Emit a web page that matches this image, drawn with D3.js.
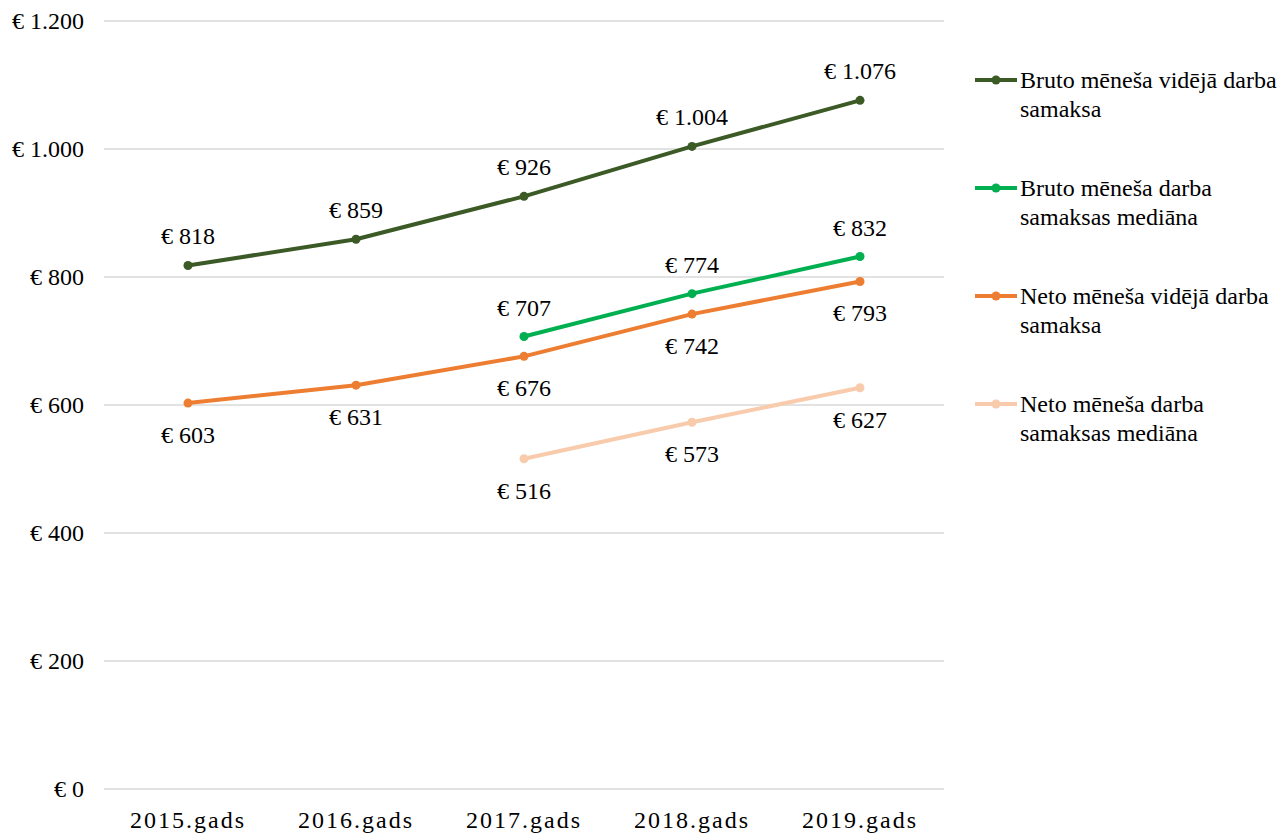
<!DOCTYPE html>
<html>
<head>
<meta charset="utf-8">
<script src="https://cdn.jsdelivr.net/npm/d3@7"></script>
<style>
    body { margin: 0; background: #fff; }
    text { font-family: "Liberation Serif", "Times New Roman", serif; fill: #000; }
</style>
</head>
<body>
<svg id="chart" width="1288" height="837"></svg>
<script>
'use strict';

var years = ["2015.gads", "2016.gads", "2017.gads", "2018.gads", "2019.gads"];
var yTicks = [0, 200, 400, 600, 800, 1000, 1200];

var brutoAvg    = [818, 859, 926, 1004, 1076];
var brutoMedian = [null, null, 707, 774, 832];
var netoAvg     = [603, 631, 676, 742, 793];
var netoMedian  = [null, null, 516, 573, 627];

var seriesNames = [
    ["Bruto mēneša vidējā darba", "samaksa"],
    ["Bruto mēneša darba", "samaksas mediāna"],
    ["Neto mēneša vidējā darba", "samaksa"],
    ["Neto mēneša darba", "samaksas mediāna"]
];

var series = [
    { values: brutoAvg,    name: seriesNames[0], color: "#3b5a26", labelPos: "above" },
    { values: brutoMedian, name: seriesNames[1], color: "#00b050", labelPos: "above" },
    { values: netoAvg,     name: seriesNames[2], color: "#ed7d31", labelPos: "below" },
    { values: netoMedian,  name: seriesNames[3], color: "#f8cbad", labelPos: "below" }
];

var svg = d3.select("#chart");
var margin = { left: 104, right: 344, top: 21, bottom: 48 };
var width = 1288, height = 837;
var fontSize = "24px";

var locale = d3.formatLocale({ decimal: ",", thousands: ".", grouping: [3], currency: ["€ ", ""] });
var fmt = locale.format(",d");
var euro = function (v) { return "€ " + fmt(v); };

var x = d3.scaleBand()
    .domain(years)
    .range([margin.left, width - margin.right]);

var y = d3.scaleLinear()
    .domain([0, 1200])
    .range([height - margin.bottom, margin.top]);

// gridlines
svg.append("g")
    .selectAll("line")
    .data(yTicks)
    .enter().append("line")
        .attr("x1", margin.left)
        .attr("x2", width - margin.right)
        .attr("y1", function (d) { return y(d); })
        .attr("y2", function (d) { return y(d); })
        .attr("stroke", "#d9d9d9")
        .attr("stroke-width", 1.3);

// y axis labels
var yAxis = svg.append("g")
    .attr("transform", "translate(" + (margin.left - 20) + ",0)")
    .call(d3.axisLeft(y).tickValues(yTicks).tickSize(0).tickPadding(0).tickFormat(euro));
yAxis.select(".domain").remove();
yAxis.selectAll("text")
    .style("font-size", fontSize)
    .style("font-family", "'Liberation Serif', serif")
    .attr("fill", "#000");

// x axis labels
var xAxis = svg.append("g")
    .attr("transform", "translate(0," + (height - margin.bottom) + ")")
    .call(d3.axisBottom(x).tickSize(0).tickPadding(22));
xAxis.select(".domain").remove();
xAxis.selectAll("text")
    .style("font-size", fontSize)
    .style("letter-spacing", "2px")
    .style("font-family", "'Liberation Serif', serif")
    .attr("fill", "#000");

var cx = function (i) { return x(years[i]) + x.bandwidth() / 2; };

var line = d3.line()
    .defined(function (d) { return d != null; })
    .x(function (d, i) { return cx(i); })
    .y(function (d) { return y(d); });

series.forEach(function (s) {
    var g = svg.append("g");
    g.append("path")
        .datum(s.values)
        .attr("d", line)
        .attr("fill", "none")
        .attr("stroke", s.color)
        .attr("stroke-width", 4)
        .attr("stroke-linejoin", "round");

    var pts = s.values.map(function (v, i) { return { v: v, i: i }; })
        .filter(function (p) { return p.v != null; });

    g.selectAll("circle")
        .data(pts)
        .enter().append("circle")
            .attr("cx", function (p) { return cx(p.i); })
            .attr("cy", function (p) { return y(p.v); })
            .attr("r", 4.5)
            .attr("fill", s.color);

    g.selectAll("text")
        .data(pts)
        .enter().append("text")
            .attr("x", function (p) { return cx(p.i); })
            .attr("y", function (p) { return y(p.v) + (s.labelPos === "above" ? -21 : 40); })
            .attr("text-anchor", "middle")
            .style("font-size", fontSize)
            .text(function (p) { return euro(p.v); });
});

// legend
var legend = svg.append("g").attr("transform", "translate(975,0)");
series.forEach(function (s, k) {
    var ly = 80 + k * 108;
    var item = legend.append("g").attr("transform", "translate(0," + ly + ")");
    item.append("line")
        .attr("x1", 0).attr("x2", 42)
        .attr("stroke", s.color)
        .attr("stroke-width", 4);
    item.append("circle")
        .attr("cx", 21).attr("r", 4.5)
        .attr("fill", s.color);
    item.selectAll("text")
        .data(s.name)
        .enter().append("text")
            .attr("x", 45)
            .attr("y", function (d, j) { return 8 + j * 29; })
            .style("font-size", fontSize)
            .text(function (d) { return d; });
});
</script>
</body>
</html>
